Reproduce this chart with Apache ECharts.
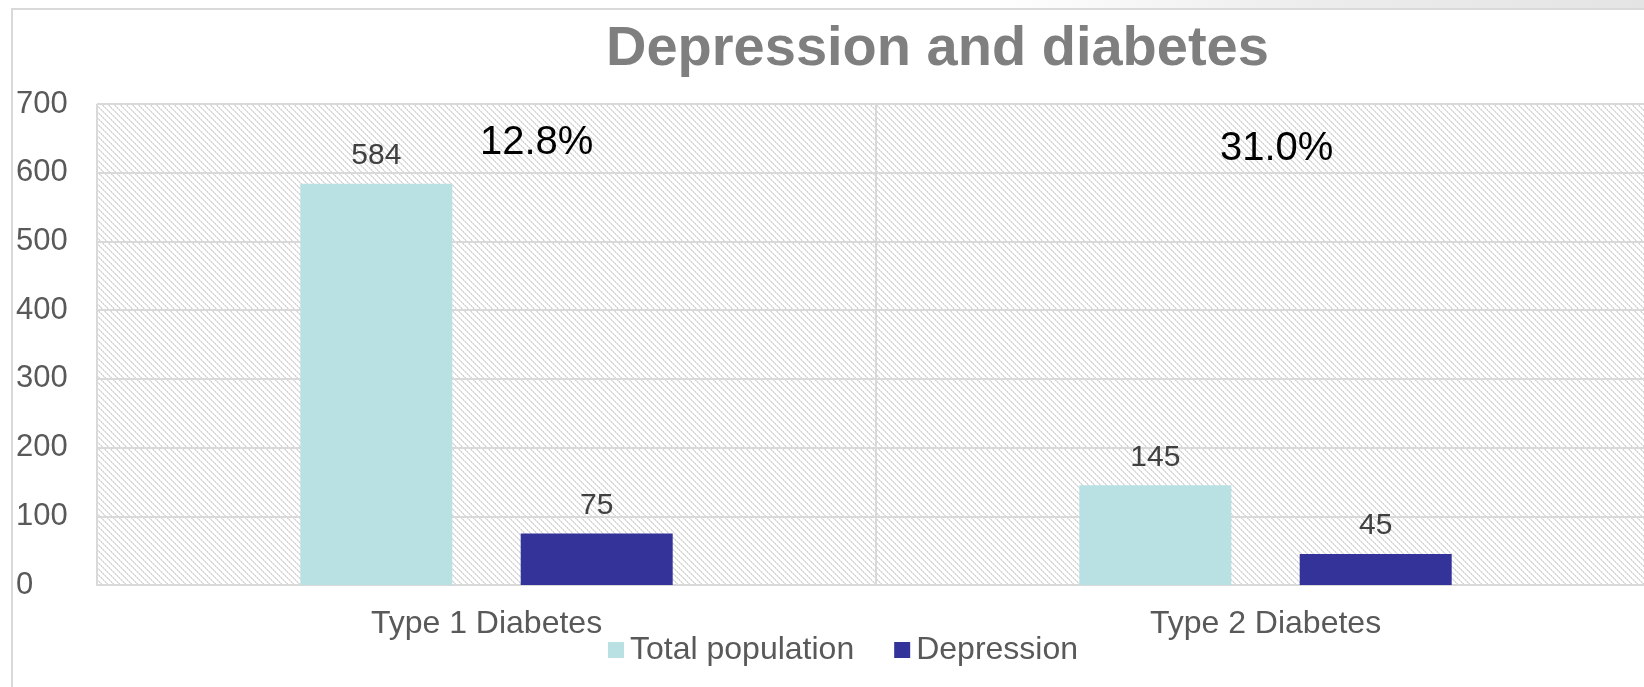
<!DOCTYPE html>
<html>
<head>
<meta charset="utf-8">
<script src="https://cdn.jsdelivr.net/npm/echarts@6/dist/echarts.min.js"></script>
<style>
  body { margin: 0; overflow: hidden; background: #fff; width: 1644px; height: 687px; }
  #topband { position: absolute; left: 0; top: 0; width: 1644px; height: 8px;
    background: linear-gradient(to right, #fff 0%, #fff 60%, #ececec 80%, #e4e4e4 100%); }
  #chart { position: absolute; left: 11px; top: 8px; width: 1690px; height: 700px;
    border: 2px solid #d9d9d9; box-sizing: border-box; }
</style>
</head>
<body>
<div id="topband"></div>
<div id="chart"></div>
<script>
// data
const categories = ['Type 1 Diabetes', 'Type 2 Diabetes'];
const totalPopulation = [584, 145];
const depression = [75, 45];
const yTicks = [0, 100, 200, 300, 400, 500, 600, 700];

// share of depression in each group -> 12.8%, 31.0%
const shares = depression.map((d, i) => (d / totalPopulation[i] * 100).toFixed(1) + '%');

// hatch pattern for the plot background (dotted "\" lines)
function hatch() {
  const n = 6;
  const c = document.createElement('canvas');
  c.width = n; c.height = n;
  const ctx = c.getContext('2d');
  ctx.fillStyle = '#ffffff';
  ctx.fillRect(0, 0, n, n);
  for (let y = 0; y < n; y++) {
    ctx.fillStyle = (y % 2 === 0) ? '#d6d6d6' : '#e4e4e4';
    ctx.fillRect(y % n, y, 1, 1);
    ctx.fillStyle = (y % 2 === 0) ? '#e8e8e8' : '#d6d6d6';
    ctx.fillRect((y + 1) % n, y, 1, 1);
  }
  return c;
}

const font = '"Liberation Sans", Arial, sans-serif';
const gridColor = '#d9d9d9';

const chart = echarts.init(document.getElementById('chart'));
chart.setOption({
  animation: false,
  textStyle: { fontFamily: font },
  title: {
    text: 'Depression and diabetes',
    left: 593, top: 12, padding: 0,
    textStyle: { fontSize: 56, fontWeight: 'bold', color: '#7f7f7f', fontFamily: font }
  },
  legend: {
    data: ['Total population', 'Depression'],
    left: 595, top: 624, padding: 0,
    itemWidth: 16, itemHeight: 16, itemGap: 40,
    icon: 'rect',
    textStyle: { fontSize: 32, color: '#595959', fontFamily: font, padding: [0, 0, 0, 1] }
  },
  grid: {
    left: 82, top: 94, width: 1560, height: 481,
    show: true, borderWidth: 0,
    backgroundColor: { image: hatch(), repeat: 'repeat' }
  },
  xAxis: {
    type: 'category',
    data: categories,
    axisLine: { lineStyle: { color: gridColor, width: 2 } },
    axisTick: { show: false },
    splitLine: { show: true, interval: 0, lineStyle: { color: gridColor, width: 2 } },
    axisLabel: { fontSize: 32, color: '#595959', margin: 23, fontFamily: font }
  },
  yAxis: {
    type: 'value',
    min: 0, max: 700, interval: 100,
    axisLine: { show: false },
    axisTick: { show: false },
    splitLine: { lineStyle: { color: gridColor, width: 2 } },
    axisLabel: {
      fontSize: 31, color: '#595959', align: 'left', margin: 81, fontFamily: font,
      verticalAlign: 'middle', padding: [7, 0, 0, 0],
      formatter: v => yTicks.includes(v) ? String(v) : ''
    }
  },
  series: [
    {
      name: 'Total population',
      type: 'bar',
      data: totalPopulation,
      barWidth: 152,
      barGap: '45%',
      itemStyle: { color: '#b9e0e2' },
      label: { show: true, position: 'top', distance: 13, fontSize: 30, color: '#404040', fontFamily: font }
    },
    {
      name: 'Depression',
      type: 'bar',
      data: depression,
      barWidth: 152,
      itemStyle: { color: '#333399' },
      label: { show: true, position: 'top', distance: 13, fontSize: 30, color: '#404040', fontFamily: font },
      markPoint: {
        symbol: 'rect',
        symbolSize: 1,
        itemStyle: { color: 'rgba(0,0,0,0)' },
        label: { show: true, position: 'inside', fontSize: 40, color: '#000', fontFamily: font },
        data: [
          { coord: [categories[0], 643], value: shares[0], label: { offset: [-60, 0], formatter: shares[0] } },
          { coord: [categories[1], 634], value: shares[1], label: { offset: [-99, 0], formatter: shares[1] } }
        ]
      }
    }
  ]
});
</script>
</body>
</html>
